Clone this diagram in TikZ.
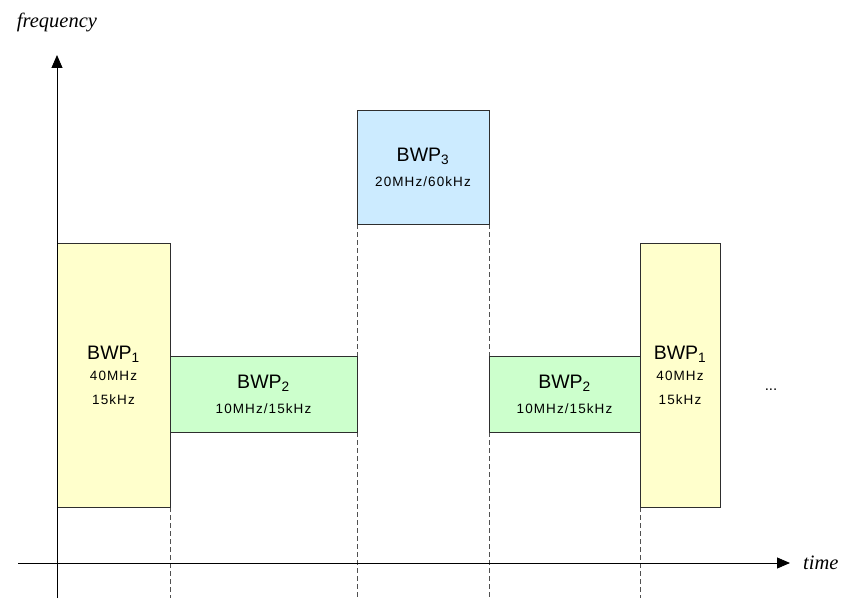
\documentclass[tikz,border=0pt]{standalone}
\usepackage{fontspec}
\setmainfont{Liberation Serif}
\setsansfont{Liberation Sans}
\usepackage{tikz}
\usetikzlibrary{arrows.meta, positioning, backgrounds}
\definecolor{Ink}{HTML}{000000}
\definecolor{Edge}{HTML}{2E2E2E}
\definecolor{Guide}{HTML}{505050}
\definecolor{SoftYellow}{HTML}{FFFFCC}
\definecolor{SoftGreen}{HTML}{CCFFCC}
\definecolor{SoftBlue}{HTML}{CCEBFF}
\newcommand{\bwpname}{\sffamily\fontsize{19.5}{22}\selectfont}

\begin{document}
\begin{tikzpicture}[
  x=1pt, y=-1pt,
  font=\sffamily,
  bwp/.style={draw=Edge, line width=0.9pt, inner sep=0pt, outer sep=0pt, align=center,
    font=\sffamily\fontsize{13.5}{24}\selectfont\addfontfeature{LetterSpace=8}},
  tall/.style={bwp, fill=SoftYellow, minimum height=264pt},
  flat/.style={bwp, fill=SoftGreen, minimum height=76pt},
  high/.style={bwp, fill=SoftBlue, minimum height=114pt},
  axis/.style={draw=Ink, line width=0.9pt, -{Triangle[length=13pt, width=11pt]}},
  axislabel/.style={inner sep=0pt, font=\rmfamily\itshape\fontsize{20.5}{24}\selectfont},
  guide/.style={draw=Guide, line width=0.8pt, dash pattern=on 5pt off 3pt}
]
\useasboundingbox (0,0) rectangle (841,599);

% bandwidth parts over time
\node[tall, minimum width=113pt] (bwpA) at (113.5,375) {{\bwpname BWP\textsubscript{1}}\\[-3pt]40MHz\\15kHz};
\node[flat, minimum width=187pt] (bwpB) at (263.5,394) {{\bwpname BWP\textsubscript{2}}\\[1pt]10MHz/15kHz};
\node[high, minimum width=132pt] (bwpC) at (423,167) {{\bwpname BWP\textsubscript{3}}\\[1pt]20MHz/60kHz};
\node[flat, minimum width=151pt] (bwpD) at (564.5,394) {{\bwpname BWP\textsubscript{2}}\\[1pt]10MHz/15kHz};
\node[tall, minimum width=80pt] (bwpE) at (680,375) {{\bwpname BWP\textsubscript{1}}\\[-3pt]40MHz\\15kHz};
\node[font=\sffamily\fontsize{15}{18}\selectfont, inner sep=0pt] (more) at (771,390) {...};

% axes
\coordinate (xstart) at (18,563);
\coordinate (xend) at (790,563);
\coordinate (ybottom) at (57,598);
\coordinate (ytop) at (57,55);
\draw[axis] (xstart) -- (xend);
\draw[axis] (ybottom) -- (ytop);
\node[axislabel, right=13pt of xend] (timelbl) {time};
\node[axislabel, above=23pt of ytop] (freqlbl) {frequency};

% switching instants
\begin{scope}[on background layer]
  \draw[guide] (bwpA.south east) -- (bwpA.south east |- ybottom);
  \draw[guide] (bwpC.south west) -- (bwpC.south west |- ybottom);
  \draw[guide] (bwpC.south east) -- (bwpC.south east |- ybottom);
  \draw[guide] (bwpE.south west) -- (bwpE.south west |- ybottom);
\end{scope}
\end{tikzpicture}
\end{document}
